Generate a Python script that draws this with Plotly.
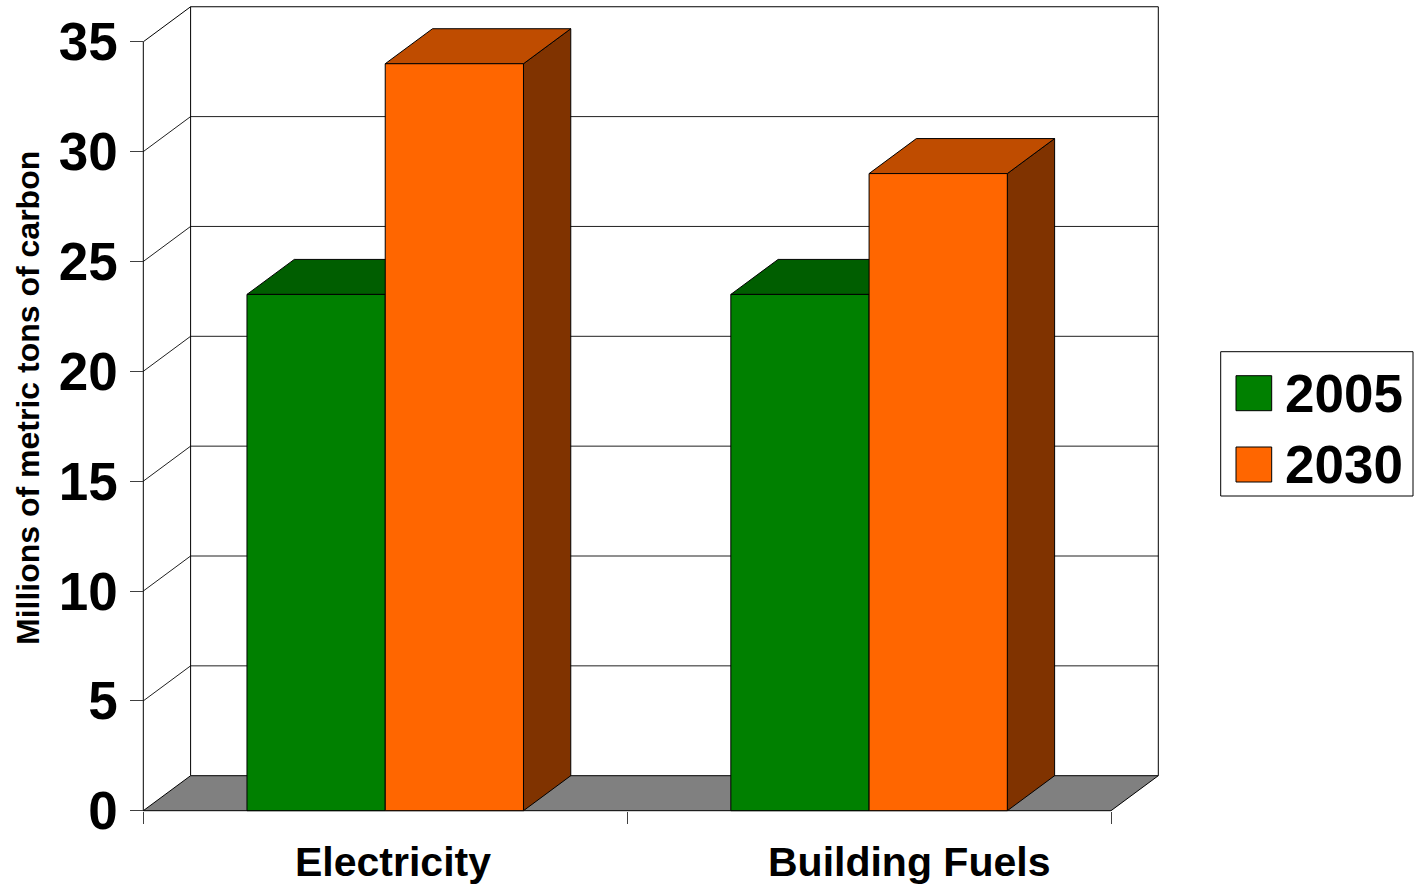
import plotly.graph_objects as go

# ---------------- data ----------------
categories = ["Electricity", "Building Fuels"]
series_names = ["2005", "2030"]
values_2005 = [23.5, 23.5]
values_2030 = [34.0, 29.0]
y_ticks = [0, 5, 10, 15, 20, 25, 30, 35]

# ---------------- styles ----------------
FONT = "Liberation Sans, Arial, sans-serif"
face_colors = {
    "2005": {"front": "#008000", "top": "#005E00", "side": "#004000"},
    "2030": {"front": "#FF6600", "top": "#BF4C00", "side": "#803300"},
}
FLOOR = "#808080"

W, H = 1418, 886
ML, MR, MT, MB = 60, 200, 2, 56
PW, PH = W - ML - MR, H - MT - MB

# pixel geometry of the front plane (layout only)
X0_PX, CAT_PX = 143.3, 483.85        # front-left x pixel, pixels per category
Y0_PX, UNIT_PX = 810.7, 21.97        # y pixel of value 0, pixels per unit
DEPTH_DX_PX, DEPTH_DY_PX = 47.3, 35.0

dx = DEPTH_DX_PX / CAT_PX
dy = DEPTH_DY_PX / UNIT_PX
ncat = len(categories)
ymax = y_ticks[-1]
bw = 1 / 3.5          # bar width (gap width 150%)

x_range = [(ML - X0_PX) / CAT_PX, (ML + PW - X0_PX) / CAT_PX]
y_range = [-(MT + PH - Y0_PX) / UNIT_PX, (Y0_PX - MT) / UNIT_PX]


def px_x(p):
    return (p - ML) / PW


def px_y(p):
    return (MT + PH - p) / PH


fig = go.Figure()


def poly(xs, ys, fill, line="black", width=1):
    fig.add_trace(go.Scatter(
        x=list(xs) + [xs[0]], y=list(ys) + [ys[0]], mode="lines",
        fill="toself" if fill else None, fillcolor=fill,
        line=dict(color=line, width=width), hoverinfo="skip", showlegend=False))


def path(xs, ys, color="black", width=1):
    fig.add_trace(go.Scatter(x=xs, y=ys, mode="lines",
                             line=dict(color=color, width=width),
                             hoverinfo="skip", showlegend=False))


# back wall + side wall gridlines
for v in y_ticks[1:-1]:
    path([0, dx, ncat + dx], [v, v + dy, v + dy], color="#202020")
# walls outline
path([0, 0], [0, ymax])                                     # front axis line
path([dx, dx], [dy, ymax + dy])                             # back-left edge
path([0, dx, ncat + dx, ncat + dx], [ymax, ymax + dy, ymax + dy, dy])
# floor
poly([0, dx, ncat + dx, ncat], [0, dy, dy, 0], FLOOR)

# bars
series = [("2005", values_2005), ("2030", values_2030)]
for ci in range(ncat):
    for si, (name, vals) in enumerate(series):
        v = vals[ci]
        xl = ci + 0.75 * bw + si * bw
        xr = xl + bw
        c = face_colors[name]
        poly([xr, xr + dx, xr + dx, xr], [0, dy, v + dy, v], c["side"])
        poly([xl, xr, xr + dx, xl + dx], [v, v, v + dy, v + dy], c["top"])
        poly([xl, xr, xr, xl], [0, 0, v, v], c["front"])

# category labels
label_px = [393, 909]
annotations = []
for name, lp in zip(categories, label_px):
    annotations.append(dict(
        x=px_x(lp), y=px_y(862), xref="paper", yref="paper", text=name,
        showarrow=False, xanchor="center", yanchor="middle",
        font=dict(family=FONT, size=41, color="black", weight="bold")))

# y-axis title
annotations.append(dict(
    x=px_x(28), y=px_y(398), xref="paper", yref="paper",
    text="Millions of metric tons of carbon", textangle=-90, showarrow=False,
    xanchor="center", yanchor="middle",
    font=dict(family=FONT, size=32, color="black", weight="bold")))

# legend (manual)
shapes = [dict(type="rect", xref="paper", yref="paper",
               x0=px_x(1220.7), x1=px_x(1413), y0=px_y(496), y1=px_y(351.7),
               line=dict(color="black", width=1), fillcolor="white")]
leg_rows = [(375.7, 410.7), (447, 482)]
for name, (t, b) in zip(series_names, leg_rows):
    shapes.append(dict(type="rect", xref="paper", yref="paper",
                       x0=px_x(1236), x1=px_x(1271.7), y0=px_y(b), y1=px_y(t),
                       line=dict(color="black", width=1),
                       fillcolor=face_colors[name]["front"]))
    annotations.append(dict(
        x=px_x(1283), y=px_y((t + b) / 2), xref="paper", yref="paper",
        text=name, showarrow=False, xanchor="left", yanchor="middle",
        font=dict(family=FONT, size=53, color="black", weight="bold")))

fig.update_layout(
    width=W, height=H,
    margin=dict(l=ML, r=MR, t=MT, b=MB, pad=0),
    paper_bgcolor="white", plot_bgcolor="white",
    showlegend=False,
    shapes=shapes, annotations=annotations,
    xaxis=dict(range=x_range, anchor="free", position=px_y(Y0_PX),
               tickvals=list(range(ncat + 1)), ticks="outside", ticklen=12,
               tickcolor="#404040", tickwidth=1, showticklabels=False,
               showgrid=False, zeroline=False, showline=False, fixedrange=True),
    yaxis=dict(range=y_range, anchor="free", position=px_x(X0_PX),
               tickvals=y_ticks, ticks="outside", ticklen=13,
               tickcolor="#404040", tickwidth=1, ticklabelstandoff=2,
               tickfont=dict(family=FONT, size=53, color="black", weight="bold"),
               showgrid=False, zeroline=False, showline=False, fixedrange=True),
)

fig.write_html("out.html")
